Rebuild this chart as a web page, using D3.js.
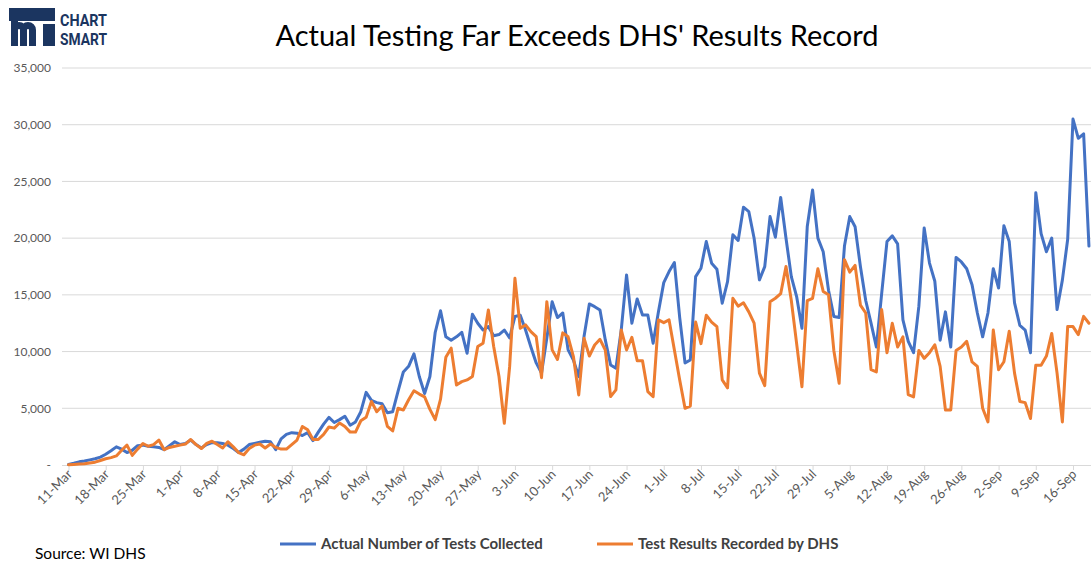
<!DOCTYPE html>
<html>
<head>
<meta charset="utf-8">
<script src="https://cdn.jsdelivr.net/npm/d3@7"></script>
<style>
  body { margin: 0; background: #fff; }
  svg { display: block; font-family: Lato, "Open Sans", sans-serif; }
</style>
</head>
<body>
<div id="chart"></div>
<script>
// daily values, 11-Mar .. 19-Sep
var startDate = new Date(2020, 2, 11);

var testsCollected = [
  50, 150, 280, 350, 450, 550, 700, 950, 1250, 1600,
  1400, 1100, 1300, 1700, 1750, 1650, 1600, 1550, 1350, 1700,
  2050, 1800, 1900, 2200, 1800, 1500, 1800, 1970, 1970, 1900,
  1750, 1450, 1100, 1400, 1800, 1900, 2000, 2100, 2050, 1350,
  2300, 2700, 2850, 2800, 2600, 2850, 2150, 2900, 3600, 4200,
  3750, 4000, 4300, 3500, 3800, 4700, 6400, 5700, 5500, 5400,
  4600, 4700, 6500, 8200, 8700, 9800, 7800, 6300, 7800, 11700,
  13600, 11300, 11000, 11300, 11700, 9850, 13300, 12500, 11900, 12200,
  11400, 11500, 11900, 11200, 13100, 13200, 11900, 10400, 9000, 8100,
  11200, 14400, 13000, 13400, 10150, 9260, 7790, 11320, 14200, 13960,
  13670, 11030, 8820, 8530, 11900, 16760, 12500, 14640, 13230, 13230,
  10730, 13520, 16080, 17050, 17850, 13000, 9000, 9260, 16610, 17350,
  19700, 17790, 17260, 14260, 16170, 20290, 19790, 22730, 22340, 19990,
  16320, 17490, 21900, 20080, 23580, 19990, 16610, 14850, 12050, 21020,
  24250, 20000, 18800, 15400, 13100, 13000, 19300, 21900, 21000, 17500,
  14500, 12500, 10400, 15100, 19700, 20200, 19500, 12800, 10900, 9900,
  14000, 20900, 17800, 16200, 11000, 13500, 10400, 18300, 17900, 17300,
  15900, 13400, 11300, 13400, 17300, 15600, 21100, 19700, 14300, 12300,
  11900, 9900, 24000, 20400, 18800, 20000, 13700, 16300, 19900, 30500,
  28800, 29200, 19300
];

var resultsRecorded = [
  30, 50, 80, 120, 180, 250, 400, 550, 650, 800,
  1300, 1750, 850, 1400, 1900, 1650, 1800, 2200, 1350, 1550,
  1650, 1750, 1850, 2250, 1800, 1450, 1900, 2100, 1800, 1500,
  2050, 1600, 1100, 900, 1450, 1750, 1850, 1500, 1850, 1550,
  1400, 1400, 1800, 2200, 3400, 3100, 2250, 2250, 2700, 3350,
  3250, 3700, 3400, 2900, 2900, 3900, 4200, 5600, 4700, 5200,
  3400, 3000, 5000, 4850, 5750, 6550, 6250, 6000, 4900, 4000,
  5800, 9500, 10300, 7060, 7350, 7500, 7800, 10440, 10730, 13670,
  10440, 7800, 3680, 8670, 16460, 12050, 12350, 11760, 11320, 7700,
  14400, 10150, 9300, 11650, 11300, 9560, 6180, 11170, 9610, 10580,
  11080, 10140, 6030, 6620, 11910, 10140, 11260, 9200, 9200, 6470,
  6030, 12790, 12550, 12790, 10140, 7500, 5000, 5200, 12600, 10700,
  13200, 12600, 12200, 7500, 6800, 14700, 14000, 14300, 13500, 12500,
  8100, 7000, 14400, 14700, 15100, 17500, 14500, 10700, 6900, 14500,
  14700, 17300, 15300, 15000, 10100, 7200, 18100, 17000, 17600, 14100,
  13400, 8400, 8200, 13700, 9900, 12500, 10400, 11300, 6200, 6000,
  10100, 9400, 9900, 10600, 8700, 4850, 4850, 10100, 10400, 10900,
  9100, 8700, 5000, 3800, 11900, 8400, 9100, 11800, 8100, 5600,
  5500, 4100, 8800, 8800, 9600, 11600, 8100, 3800, 12200, 12200,
  11500, 13100, 12500
];

var yTicks = [0, 5000, 10000, 15000, 20000, 25000, 30000, 35000];
var seriesNames = ["Actual Number of Tests Collected", "Test Results Recorded by DHS"];
var seriesColors = ["#4472C4", "#ED7D31"];

var width = 1091, height = 563;
var margin = {top: 68, right: 0, bottom: 98, left: 62};

var dates = testsCollected.map(function(d, i) { return d3.timeDay.offset(startDate, i); });

var x = d3.scaleTime()
    .domain([startDate, d3.timeDay.offset(startDate, 189)])
    .range([68.5, 1073]);

var y = d3.scaleLinear()
    .domain([0, 35000])
    .range([465, 68]);

var svg = d3.select("#chart").append("svg")
    .attr("width", width)
    .attr("height", height);

// gridlines
svg.append("g").selectAll("line")
    .data(yTicks.filter(function(d) { return d > 0; }))
    .enter().append("line")
    .attr("x1", margin.left).attr("x2", width)
    .attr("y1", function(d) { return y(d); })
    .attr("y2", function(d) { return y(d); })
    .attr("stroke", "#d9d9d9")
    .attr("stroke-width", 1);

// y labels
var yAxis = d3.axisLeft(y)
    .tickValues(yTicks)
    .tickSize(0)
    .tickPadding(0)
    .tickFormat(function(d) { return d === 0 ? "-" : d3.format(",")(d); });

var gy = svg.append("g")
    .attr("transform", "translate(51,0)")
    .call(yAxis);
gy.select(".domain").remove();
gy.selectAll("text")
    .attr("fill", "#595959")
    .style("font-size", "12px")
    .style("font-family", "Lato, sans-serif");

// x axis, a label every 7 days
var weekDates = d3.range(0, 190, 7).map(function(i) { return d3.timeDay.offset(startDate, i); });

var xAxis = d3.axisBottom(x)
    .tickValues(weekDates)
    .tickSize(5)
    .tickSizeOuter(0)
    .tickFormat(d3.timeFormat("%-d-%b"));

var gx = svg.append("g")
    .attr("transform", "translate(0,465)")
    .call(xAxis);
gx.select(".domain")
    .attr("d", "M" + margin.left + ",0.5H" + width)
    .attr("stroke", "#d9d9d9");
gx.selectAll(".tick line").attr("stroke", "#d9d9d9");
gx.selectAll("text")
    .attr("fill", "#595959")
    .style("font-size", "13px")
    .style("font-family", "Lato, sans-serif")
    .attr("text-anchor", "end")
    .attr("dy", "0")
    .attr("y", 0)
    .attr("transform", "translate(4,10) rotate(-45)");

// lines
var line = d3.line()
    .x(function(d, i) { return x(dates[i]); })
    .y(function(d) { return y(d); });

svg.append("clipPath").attr("id", "clip")
  .append("rect").attr("x", 0).attr("y", 0).attr("width", width).attr("height", 470);

[testsCollected, resultsRecorded].forEach(function(series, k) {
  svg.append("path")
      .datum(series)
      .attr("clip-path", "url(#clip)")
      .attr("fill", "none")
      .attr("stroke", seriesColors[k])
      .attr("stroke-width", 3)
      .attr("stroke-linejoin", "round")
      .attr("stroke-linecap", "round")
      .attr("d", line);
});

// title
svg.append("text")
    .attr("x", 577)
    .attr("y", 46)
    .attr("text-anchor", "middle")
    .attr("fill", "#000")
    .style("font-size", "29px")
    .style("font-family", "Lato, sans-serif")
    .text("Actual Testing Far Exceeds DHS' Results Record");

// legend
var legendX = [280, 597];
var legend = svg.append("g").selectAll("g")
    .data(seriesNames)
    .enter().append("g")
    .attr("transform", function(d, i) { return "translate(" + legendX[i] + ",544)"; });
legend.append("line")
    .attr("x1", 0).attr("x2", 36)
    .attr("stroke", function(d, i) { return seriesColors[i]; })
    .attr("stroke-width", 3);
legend.append("text")
    .attr("x", 41)
    .attr("y", 5)
    .attr("fill", "#404040")
    .style("font-size", "15px")
    .style("font-weight", "bold")
    .style("font-family", "Lato, sans-serif")
    .text(function(d) { return d; });

// source
svg.append("text")
    .attr("x", 35)
    .attr("y", 559)
    .attr("fill", "#000")
    .style("font-size", "15.5px")
    .style("font-family", "Lato, sans-serif")
    .text("Source: WI DHS");

// logo
var navy = "#1b3560";
var logo = svg.append("g");
logo.append("rect").attr("x", 9).attr("y", 8).attr("width", 46).attr("height", 13).attr("fill", navy);
logo.append("path")
    .attr("d", "M14.5,46V30a4.5,4.5 0 0 1 9,0V46M23.5,30a4.5,4.5 0 0 1 9,0V46")
    .attr("fill", "none")
    .attr("stroke", navy)
    .attr("stroke-width", 7);
logo.append("rect").attr("x", 11).attr("y", 21).attr("width", 7).attr("height", 25).attr("fill", navy);
logo.append("rect").attr("x", 43).attr("y", 24).attr("width", 12).attr("height", 22).attr("fill", navy);
logo.append("text").attr("x", 60).attr("y", 25.5)
    .attr("fill", navy).attr("textLength", 47).attr("lengthAdjust", "spacingAndGlyphs")
    .style("font-size", "16px").style("font-weight", "bold").style("font-family", "Roboto, sans-serif")
    .text("CHART");
logo.append("text").attr("x", 60).attr("y", 44.5)
    .attr("fill", navy).attr("textLength", 47).attr("lengthAdjust", "spacingAndGlyphs")
    .style("font-size", "16px").style("font-weight", "bold").style("font-family", "Roboto, sans-serif")
    .text("SMART");
</script>
</body>
</html>
